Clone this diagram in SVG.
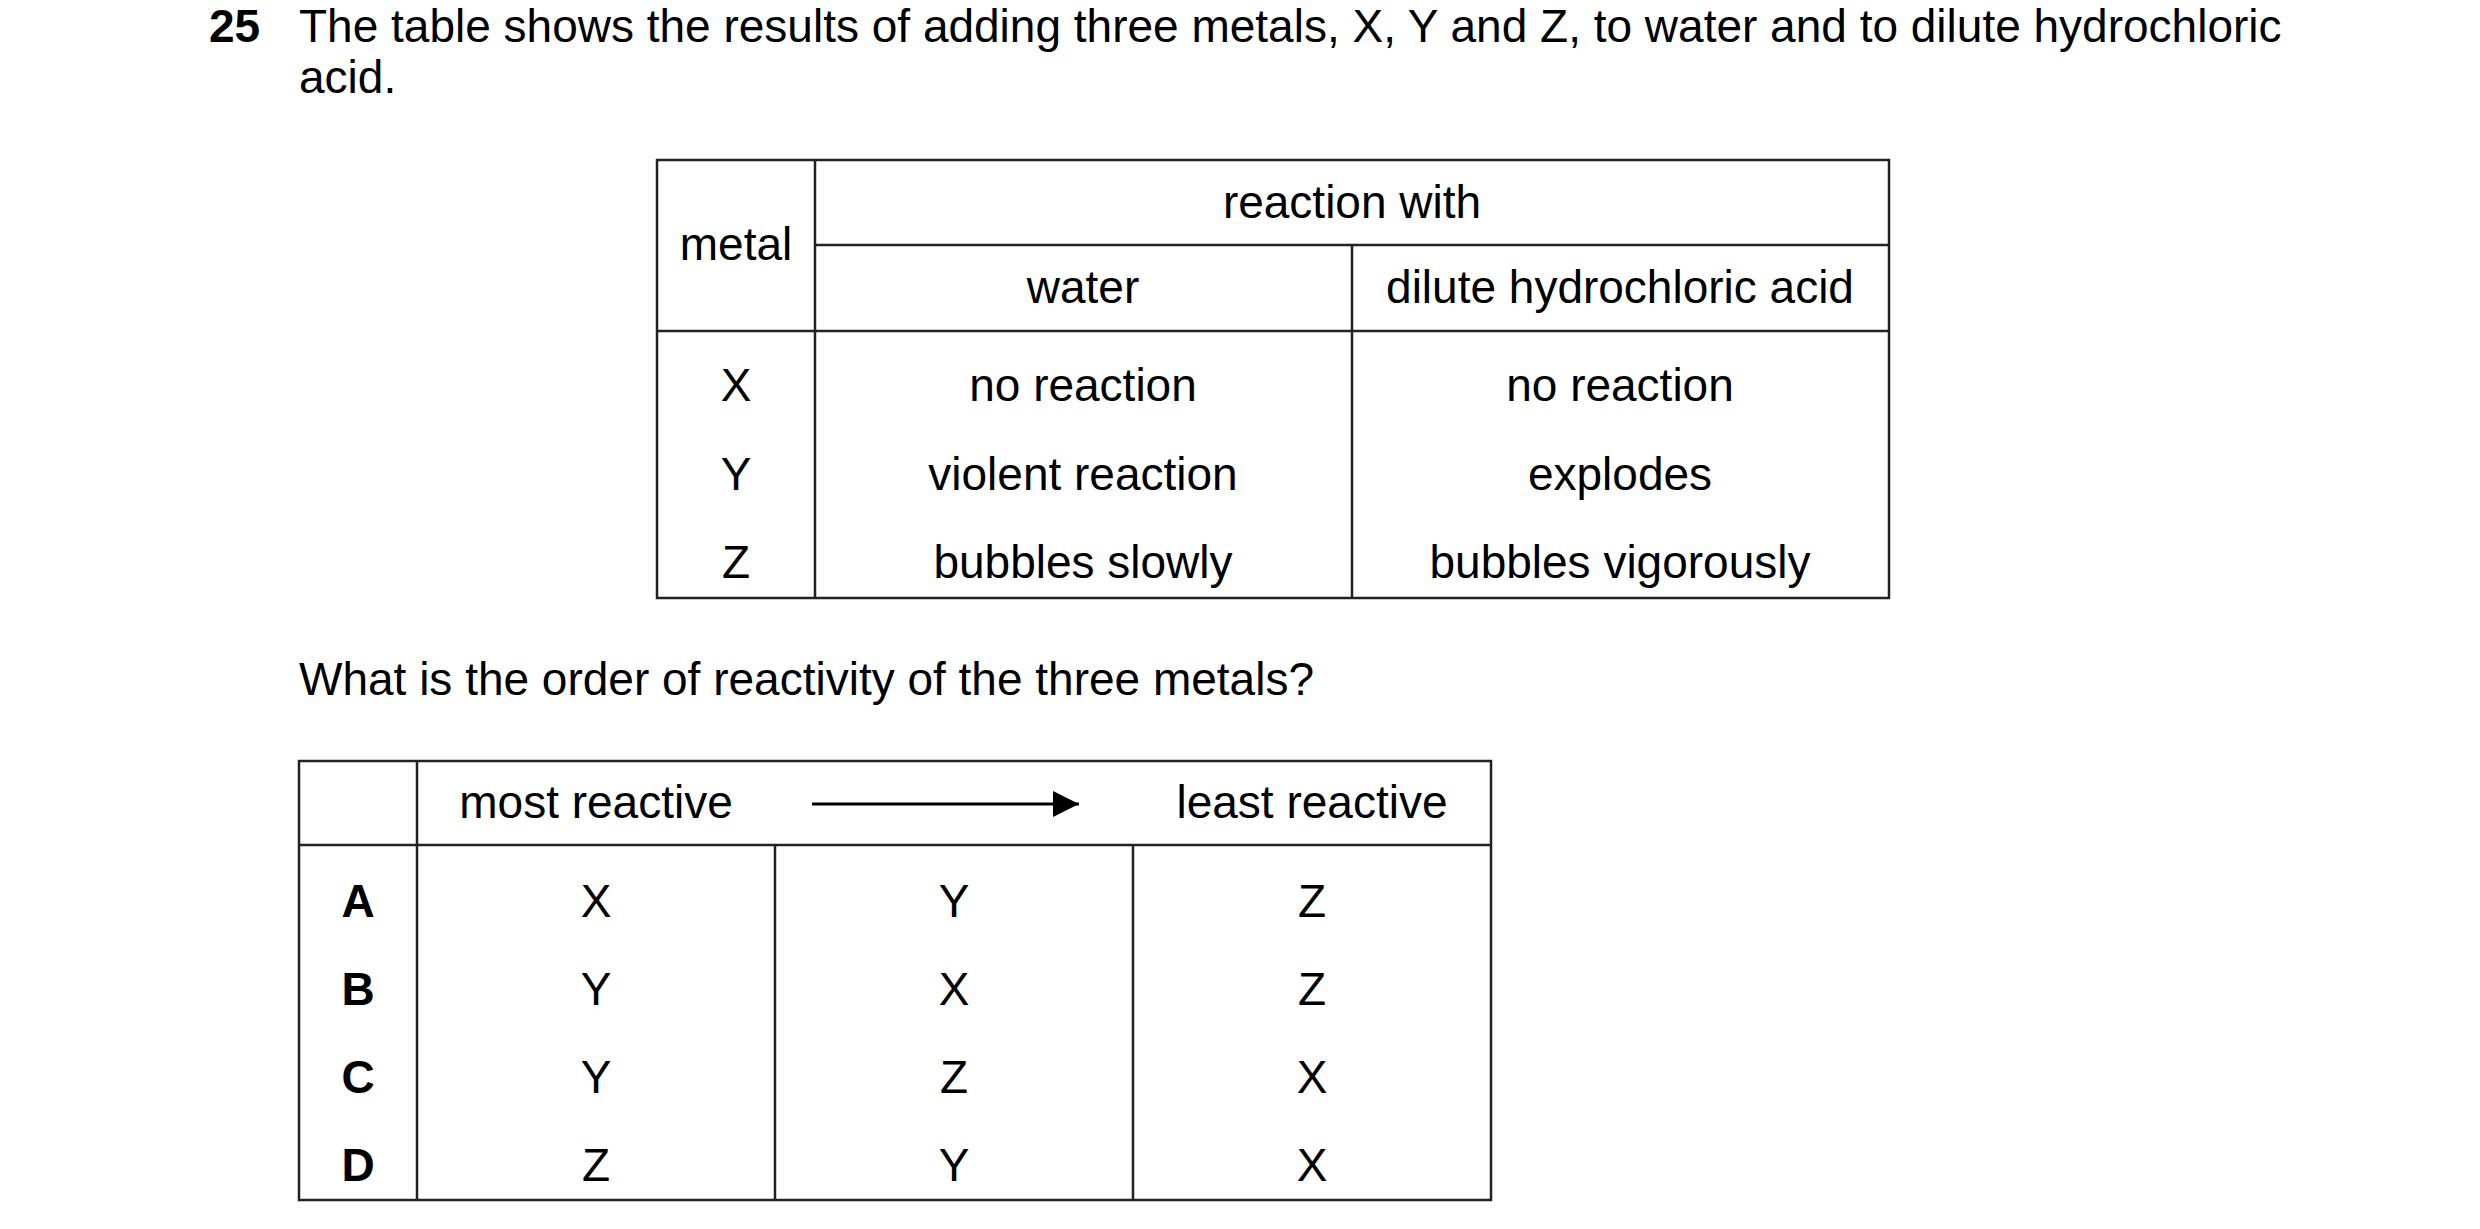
<svg xmlns="http://www.w3.org/2000/svg" width="2480" height="1229" viewBox="0 0 2480 1229">
<style>
text{font-family:"Liberation Sans",Arial,sans-serif;font-size:46px;fill:#000}
.c{text-anchor:middle}
.b{font-weight:bold}
.t line,.t rect{stroke:#222;stroke-width:2.5;fill:none}
</style>
<defs><marker id="ah" viewBox="0 0 10 10" refX="10" refY="5" markerWidth="26" markerHeight="26" markerUnits="userSpaceOnUse" orient="auto"><path d="M0,0L10,5L0,10z" fill="#000"/></marker></defs>
<rect width="2480" height="1229" fill="#fff"/>
<g id="question">
<text x="209" y="42" class="b">25</text>
<text x="299" y="42">The table shows the results of adding three metals, X, Y and Z, to water and to dilute hydrochloric</text>
<text x="299" y="93">acid.</text>
<text x="299" y="695">What is the order of reactivity of the three metals?</text>
</g>
<g id="table1" class="t">
<rect x="657" y="160" width="1232" height="438"/>
<line x1="815" y1="160" x2="815" y2="598"/>
<line x1="815" y1="245" x2="1889" y2="245"/>
<line x1="1352" y1="245" x2="1352" y2="598"/>
<line x1="657" y1="331" x2="1889" y2="331"/>
<text x="1352" y="218" class="c">reaction with</text>
<text x="736" y="260" class="c">metal</text>
<text x="1083" y="303" class="c">water</text>
<text x="1620" y="303" class="c">dilute hydrochloric acid</text>
<text x="736" y="401" class="c">X</text><text x="1083" y="401" class="c">no reaction</text><text x="1620" y="401" class="c">no reaction</text>
<text x="736" y="490" class="c">Y</text><text x="1083" y="490" class="c">violent reaction</text><text x="1620" y="490" class="c">explodes</text>
<text x="736" y="578" class="c">Z</text><text x="1083" y="578" class="c">bubbles slowly</text><text x="1620" y="578" class="c">bubbles vigorously</text>
</g>
<g id="table2" class="t">
<rect x="299" y="761" width="1192" height="439"/>
<line x1="417" y1="761" x2="417" y2="1200"/>
<line x1="299" y1="845" x2="1491" y2="845"/>
<line x1="775" y1="845" x2="775" y2="1200"/>
<line x1="1133" y1="845" x2="1133" y2="1200"/>
<text x="596" y="818" class="c">most reactive</text>
<text x="1312" y="818" class="c">least reactive</text>
<text x="358" y="917" class="c b">A</text><text x="596" y="917" class="c">X</text><text x="954" y="917" class="c">Y</text><text x="1312" y="917" class="c">Z</text>
<text x="358" y="1005" class="c b">B</text><text x="596" y="1005" class="c">Y</text><text x="954" y="1005" class="c">X</text><text x="1312" y="1005" class="c">Z</text>
<text x="358" y="1093" class="c b">C</text><text x="596" y="1093" class="c">Y</text><text x="954" y="1093" class="c">Z</text><text x="1312" y="1093" class="c">X</text>
<text x="358" y="1181" class="c b">D</text><text x="596" y="1181" class="c">Z</text><text x="954" y="1181" class="c">Y</text><text x="1312" y="1181" class="c">X</text>
</g>
<g id="connectors">
<line x1="812" y1="804" x2="1079" y2="804" stroke="#000" stroke-width="3" marker-end="url(#ah)"/>
</g>
</svg>
